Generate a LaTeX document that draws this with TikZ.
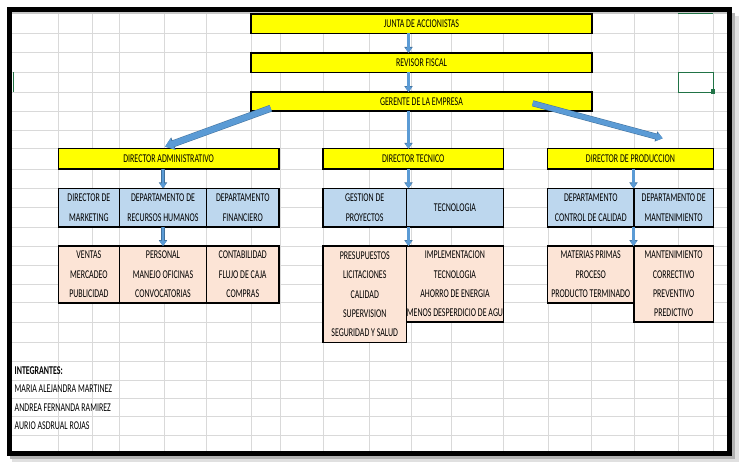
\documentclass[tikz,border=0pt]{standalone}
\usepackage{fontspec}
\setmainfont{Carlito}[FakeStretch=0.665]
\usetikzlibrary{arrows.meta,calc}

\definecolor{amarillo}{HTML}{FFFF00}
\definecolor{azul}{HTML}{BDD7EE}
\definecolor{rosa}{HTML}{FCE4D6}
\definecolor{flecha}{HTML}{5B9BD5}
\definecolor{flechaborde}{HTML}{41719C}
\definecolor{gris}{HTML}{D9D9D9}
\definecolor{verde}{HTML}{217346}

\tikzset{
  celda/.style={draw=black, line width=1.5pt, fill=#1, anchor=north west, outer sep=0pt,
    inner sep=0pt, align=center, font=\fontsize{11.9}{19.3}\selectfont},
  texto/.style={anchor=west, inner sep=0pt, font=\fontsize{11.9}{19.3}\selectfont},
  rejilla/.style={draw=gris, line width=0.8pt},
  flechita/.style={color=flecha, line width=2.4pt, -{Triangle[length=5pt,width=6.6pt]},
    preaction={draw=flechaborde, line width=3.3pt, -{Triangle[length=5.8pt,width=8pt]}}},
  flechota/.style={color=flecha, line width=6pt, -{Triangle[length=8pt,width=11pt]},
    preaction={draw=flechaborde, line width=7pt, -{Triangle[length=9pt,width=12.6pt]}}},
  flechamedia/.style={color=flecha, line width=5pt, -{Triangle[length=6pt,width=8.5pt]},
    preaction={draw=flechaborde, line width=6pt, -{Triangle[length=7pt,width=10pt]}}}
}

\begin{document}
\begin{tikzpicture}[x=1pt,y=-1pt]
  \useasboundingbox[fill=white] (0,0) rectangle (745,470);

  \foreach \gx in {58.3,92.7,119.5,164.5,206.5,251,280,323,369.5,411,451,503.5,548,591,634,678.3,713.3}
    \draw[rejilla] (\gx,12.3) -- (\gx,450.7);
  \foreach \gy in {33.3,52.8,72.5,92,111,130.3,148.7,169,188.3,207.7,227,246,265,284,302.9,322,342.5,361.7,380,398.4,416.7,435}
    \draw[rejilla] (12.3,\gy) -- (726.7,\gy);
  \draw[draw=black!22, line width=1.6pt] (12.3,13.3) -- (726.7,13.3);

  \node[celda=amarillo, minimum width=341pt, minimum height=19.3pt] (junta) at (251,14) {JUNTA DE ACCIONISTAS};
  \node[celda=amarillo, minimum width=341pt, minimum height=19.7pt] (revisor) at (251,52.8) {REVISOR FISCAL};
  \node[celda=amarillo, minimum width=341pt, minimum height=19pt] (gerente) at (251,92) {GERENTE DE LA EMPRESA};

  \node[celda=amarillo, minimum width=220.7pt, minimum height=20.3pt] (dadm) at (58.3,148.7) {DIRECTOR ADMINISTRATIVO};
  \node[celda=amarillo, minimum width=180.5pt, minimum height=20.3pt] (dtec) at (323,148.7) {DIRECTOR TECNICO};
  \node[celda=amarillo, minimum width=165.8pt, minimum height=20.3pt] (dprod) at (547.5,148.7) {DIRECTOR DE PRODUCCION};

  \node[celda=azul, minimum width=61.2pt, minimum height=38.7pt] (mkt) at (58.3,188.3) {DIRECTOR DE\\MARKETING};
  \node[celda=azul, minimum width=87pt, minimum height=38.7pt] (rrhh) at (119.5,188.3) {DEPARTAMENTO DE\\RECURSOS HUMANOS};
  \node[celda=azul, minimum width=72.5pt, minimum height=38.7pt] (fin) at (206.5,188.3) {DEPARTAMENTO\\FINANCIERO};
  \node[celda=azul, minimum width=83.5pt, minimum height=38.7pt] (gest) at (323,188.3) {GESTION DE\\PROYECTOS};
  \node[celda=azul, minimum width=97pt, minimum height=38.7pt] (tecno) at (406.5,188.3) {TECNOLOGIA};
  \node[celda=azul, minimum width=86.5pt, minimum height=38.7pt] (calidad) at (547.5,188.3) {DEPARTAMENTO\\CONTROL DE CALIDAD};
  \node[celda=azul, minimum width=79.3pt, minimum height=38.7pt] (mant) at (634,188.3) {DEPARTAMENTO DE\\MANTENIMIENTO};

  \node[celda=rosa, minimum width=61.2pt, minimum height=56.9pt] (ventas) at (58.3,246) {VENTAS\\MERCADEO\\PUBLICIDAD};
  \node[celda=rosa, minimum width=87pt, minimum height=56.9pt] (personal) at (119.5,246) {PERSONAL\\MANEJO OFICINAS\\CONVOCATORIAS};
  \node[celda=rosa, minimum width=72.5pt, minimum height=56.9pt] (conta) at (206.5,246) {CONTABILIDAD\\FLUJO DE CAJA\\COMPRAS};
  \node[celda=rosa, minimum width=83.5pt, minimum height=96.5pt] (presup) at (323,246) {PRESUPUESTOS\\LICITACIONES\\CALIDAD\\SUPERVISION\\SEGURIDAD Y SALUD};
  \node[celda=rosa, minimum width=97pt, minimum height=76pt] (implem) at (406.5,246) {IMPLEMENTACION\\TECNOLOGIA\\AHORRO DE ENERGIA\\MENOS DESPERDICIO DE AGU};
  \node[celda=rosa, minimum width=86.5pt, minimum height=56.9pt] (materias) at (547.5,246) {MATERIAS PRIMAS\\PROCESO\\PRODUCTO TERMINADO};
  \node[celda=rosa, minimum width=79.3pt, minimum height=76pt] (mantp) at (634,246) {MANTENIMIENTO\\CORRECTIVO\\PREVENTIVO\\PREDICTIVO};

  \node[texto] (integ) at (14.5,370.9) {\bfseries INTEGRANTES:};
  \node[texto] (maria) at (14.5,389.2) {MARIA ALEJANDRA MARTINEZ};
  \node[texto] (andrea) at (14.5,407.6) {ANDREA FERNANDA RAMIREZ};
  \node[texto] (aurio) at (14.5,425.9) {AURIO ASDRUAL ROJAS};

  \coordinate (ejeAdm) at (163,0);
  \coordinate (ejeTec) at (408.5,0);
  \coordinate (ejeProd) at (633.5,0);
  \coordinate (colaAdm) at ($(gerente.south west)+(19.7,-2.7)$);
  \coordinate (puntaAdm) at ($(dadm.north west)+(106.7,-2)$);
  \coordinate (colaProd) at ($(gerente.south east)+(-59.3,-7.7)$);
  \coordinate (puntaProd) at ($(dprod.north)+(32.3,-10.4)$);

  \draw[flechita] (junta.south -| ejeTec) -- (revisor.north -| ejeTec);
  \draw[flechita] (revisor.south -| ejeTec) -- (gerente.north -| ejeTec);
  \draw[flechita] (gerente.south -| ejeTec) -- (dtec.north -| ejeTec);
  \draw[flechota] (colaAdm) -- (puntaAdm);
  \draw[flechamedia] (colaProd) -- (puntaProd);
  \draw[flechita] (dadm.south -| ejeAdm) -- (rrhh.north -| ejeAdm);
  \draw[flechita] (rrhh.south -| ejeAdm) -- (personal.north -| ejeAdm);
  \draw[flechita] (dtec.south -| ejeTec) -- (gest.north -| ejeTec);
  \draw[flechita] (gest.south -| ejeTec) -- (presup.north -| ejeTec);
  \draw[flechita] (dprod.south -| ejeProd) -- (calidad.north -| ejeProd);
  \draw[flechita] (calidad.south -| ejeProd) -- (materias.north -| ejeProd);

  \draw[verde, line width=1.4pt] (678.3,72.5) rectangle (713.3,92.3);
  \fill[verde] (711.3,89.3) rectangle (715.3,94);
  \draw[verde, line width=1.4pt] (678.3,13.5) -- (713.3,13.5);
  \draw[verde, line width=1pt] (13.2,72.5) -- (13.2,92);

  \draw[black!12, line width=6pt] (735.5,16) -- (735.5,459.5) -- (12,459.5);
  \draw[black!30, line width=3pt] (733.5,13) -- (733.5,457.5) -- (10,457.5);
  \draw[line width=5.6pt] (9.5,9.4) rectangle (729.5,453.4);
\end{tikzpicture}
\end{document}
